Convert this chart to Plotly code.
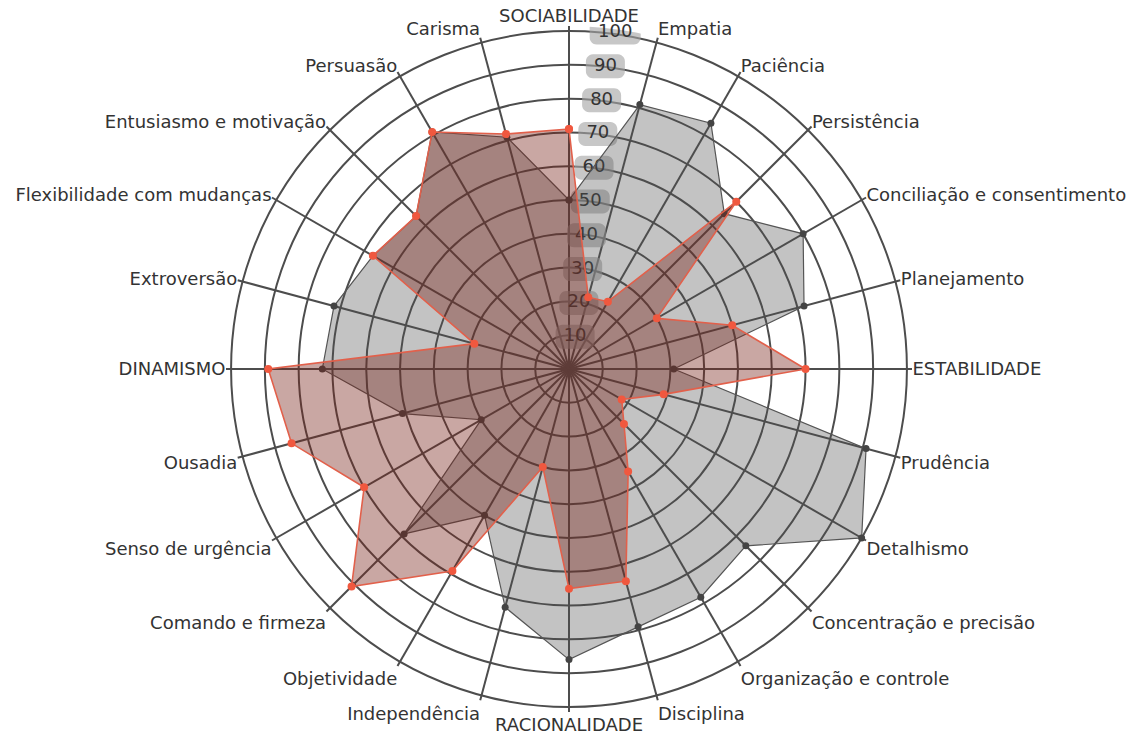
import math
import plotly.graph_objects as go

categories = [
    "SOCIABILIDADE", "Empatia", "Paciência", "Persistência",
    "Conciliação e consentimento", "Planejamento", "ESTABILIDADE", "Prudência",
    "Detalhismo", "Concentração e precisão", "Organização e controle", "Disciplina",
    "RACIONALIDADE", "Independência", "Objetividade", "Comando e firmeza",
    "Senso de urgência", "Ousadia", "DINAMISMO", "Extroversão",
    "Flexibilidade com mudanças", "Entusiasmo e motivação", "Persuasão", "Carisma",
]
gray_values = [50, 81, 84, 65, 80, 72, 31, 91, 100, 74, 78, 79,
               86, 73, 50, 69, 30, 51, 73, 72, 67, 64, 81, 71]
red_values = [71, 22, 23, 70, 30, 50, 70, 29, 18, 23, 35, 65,
              65, 30, 69, 91, 70, 85, 89, 29, 67, 64, 81, 72]
radial_ticks = [10, 20, 30, 40, 50, 60, 70, 80, 90, 100]

W, H = 1122, 738
R_EDGE = 101.5          # spokes run slightly past the 100 ring
EDGE_PX = 343
M_T = 18
M_B = H - M_T - 2 * EDGE_PX
M_L = M_R = 80
PX = EDGE_PX / R_EDGE   # pixels per radial unit
FONT = "DejaVu Sans, Verdana, sans-serif"

step = 360.0 / len(categories)
angles = [i * step for i in range(len(categories))]


def closed(vals):
    return list(vals) + [vals[0]]


def to_polar(xo, yo):
    r = math.hypot(xo, yo) / PX
    th = math.degrees(math.atan2(xo, yo))
    return r, th


# rounded label boxes for radial ticks (drawn beneath data traces)
box_r, box_t, txt_r, txt_t = [], [], [], []
for v in radial_ticks:
    rp = v * PX - 1.5
    w = 51 if len(str(v)) == 3 else 39
    h = 24
    left = -17 + 0.112 * rp
    cx, cy = left + w / 2, rp
    rad = 7
    pts = []
    corners = [(cx + w / 2 - rad, cy + h / 2 - rad, 0),
               (cx + w / 2 - rad, cy - h / 2 + rad, -90),
               (cx - w / 2 + rad, cy - h / 2 + rad, -180),
               (cx - w / 2 + rad, cy + h / 2 - rad, -270)]
    for (ccx, ccy, a0) in corners:
        for k in range(7):
            a = math.radians(90 + a0 - k * 15)
            pts.append((ccx + rad * math.cos(a), ccy + rad * math.sin(a)))
    pts.append(pts[0])
    for (x, y) in pts:
        r, th = to_polar(x, y)
        box_r.append(r)
        box_t.append(th)
    box_r.append(None)
    box_t.append(None)
    r, th = to_polar(cx, cy)
    txt_r.append(r)
    txt_t.append(th)

fig = go.Figure()
fig.add_trace(go.Scatterpolar(
    r=box_r, theta=box_t, mode="lines", fill="toself", cliponaxis=False,
    fillcolor="rgba(165,165,165,0.62)", line=dict(width=0, color="rgba(0,0,0,0)"),
    hoverinfo="skip", showlegend=False))
fig.add_trace(go.Scatterpolar(
    r=txt_r, theta=txt_t, mode="text", text=[str(v) for v in radial_ticks],
    cliponaxis=False,
    textfont=dict(family=FONT, size=18, color="#333"),
    textposition="middle center", hoverinfo="skip", showlegend=False))
fig.add_trace(go.Scatterpolar(
    r=closed(gray_values), theta=closed(angles), mode="lines+markers",
    fill="toself", fillcolor="rgba(80,80,80,0.34)", cliponaxis=False,
    line=dict(color="#555555", width=1.2),
    marker=dict(color="#444444", size=7),
    name="Perfil ideal", showlegend=False))
fig.add_trace(go.Scatterpolar(
    r=closed(red_values), theta=closed(angles), mode="lines+markers",
    fill="toself", fillcolor="rgba(120,35,25,0.40)", cliponaxis=False,
    line=dict(color="#e2604b", width=1.6),
    marker=dict(color="#f0583f", size=8),
    name="Perfil", showlegend=False))

fig.update_layout(
    width=W, height=H,
    margin=dict(l=M_L, r=M_R, t=M_T, b=M_B),
    paper_bgcolor="white",
    showlegend=False,
    font=dict(family=FONT),
    polar=dict(
        bgcolor="rgba(0,0,0,0)",
        angularaxis=dict(
            tickmode="array", tickvals=angles, ticktext=categories,
            direction="clockwise", rotation=90, thetaunit="degrees",
            showline=False,
            showgrid=True, gridcolor="#4d4d4d", gridwidth=1.5,
            ticks="",
            tickfont=dict(family=FONT, size=18, color="#333"),
        ),
        radialaxis=dict(
            range=[0, R_EDGE], tickvals=radial_ticks, showticklabels=False,
            ticks="", showline=False, showgrid=True,
            gridcolor="#4d4d4d", gridwidth=1.5, angle=90,
        ),
    ),
)

fig.write_html("out.html")
